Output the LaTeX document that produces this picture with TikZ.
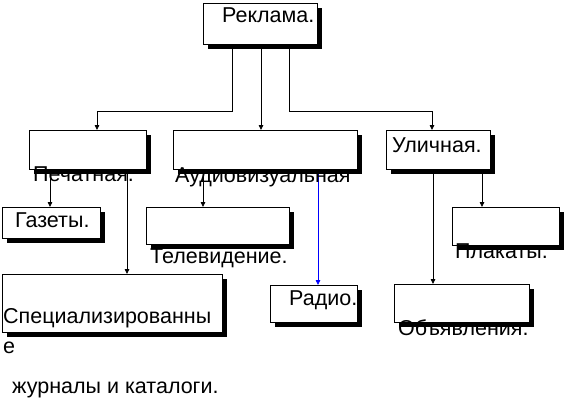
\documentclass[tikz,border=0pt]{standalone}
\usepackage{fontspec}
\setmainfont{Liberation Sans}
\usetikzlibrary{arrows.meta,shadows}
\pgfdeclarelayer{bg}
\pgfsetlayers{bg,main}
\begin{document}
\begin{tikzpicture}[x=1pt,y=-1pt,
  box/.style={draw, fill=white, line width=0.9pt, anchor=north west, inner sep=0pt,
    general shadow={fill=black, shadow xshift=5pt, shadow yshift=-5pt}},
  lbl/.style={anchor=base west, inner sep=0pt, font=\fontsize{21.5}{25}\selectfont},
  conn/.style={line width=0.8pt, -{Triangle[length=5pt,width=4.5pt]}}]
\useasboundingbox (0,0) rectangle (564,402);
% boxes
\node[box, minimum width=114pt, minimum height=41pt] (rek)   at (203,3)   {};
\node[box, minimum width=117pt, minimum height=39pt] (pech)  at (29,130)  {};
\node[box, minimum width=184pt, minimum height=39pt] (audio) at (173,130) {};
\node[box, minimum width=104pt, minimum height=39pt] (ulich) at (386,130) {};
\node[box, minimum width=98pt,  minimum height=31pt] (gaz)   at (2,207)   {};
\node[box, minimum width=143pt, minimum height=37pt] (tv)    at (146,207) {};
\node[box, minimum width=107pt, minimum height=38pt] (plak)  at (452,207) {};
\node[box, minimum width=87pt,  minimum height=37pt] (radio) at (270,285) {};
\node[box, minimum width=220pt, minimum height=58pt] (spec)  at (2,274)   {};
\node[box, minimum width=135pt, minimum height=38pt] (obj)   at (394,284) {};
% labels
\node[lbl] (trek)   at (222,22)  {Реклама.};
\node[lbl] (tpech)  at (33,181)  {Печатная.};
\node[lbl] (taudio) at (175,182) {Аудиовизуальная};
\node[lbl] (tulich) at (392,152) {Уличная.};
\node[lbl] (tgaz)   at (15,227)  {Газеты.};
\node[lbl] (ttv)    at (150,263) {Телевидение.};
\node[lbl] (tplak)  at (455,258) {Плакаты.};
\node[lbl] (tradio) at (289,305) {Радио.};
\node[lbl] (tspec1) at (3,323)   {Специализированны};
\node[lbl] (tspec2) at (3,353)   {е};
\node[lbl] (tspec3) at (12,393)  {журналы и каталоги.};
\node[lbl] (tobj)   at (398,335) {Объявления.};
% connectors
\begin{pgfonlayer}{bg}
\draw[conn] ([xshift=29pt]rek.south west) -- ++(0,66) -| ([xshift=68pt]pech.north west);
\draw[conn] ([xshift=58pt]rek.south west) -- ([xshift=88pt]audio.north west);
\draw[conn] ([xshift=86pt]rek.south west) -- ++(0,66) -| ([xshift=46pt]ulich.north west);
\draw[conn] ([xshift=21pt]pech.south west) -- ([xshift=48pt]gaz.north west);
\draw[conn] ([xshift=98pt]pech.south west) -- ([xshift=125pt]spec.north west);
\draw[conn] ([xshift=30pt]audio.south west) -- ([xshift=57pt]tv.north west);
\draw[conn, blue] ([xshift=145pt]audio.south west) -- ([xshift=48pt]radio.north west);
\draw[conn] ([xshift=47pt]ulich.south west) -- ([xshift=39pt]obj.north west);
\draw[conn] ([xshift=96pt]ulich.south west) -- ([xshift=30pt]plak.north west);
\end{pgfonlayer}
\end{tikzpicture}
\end{document}
